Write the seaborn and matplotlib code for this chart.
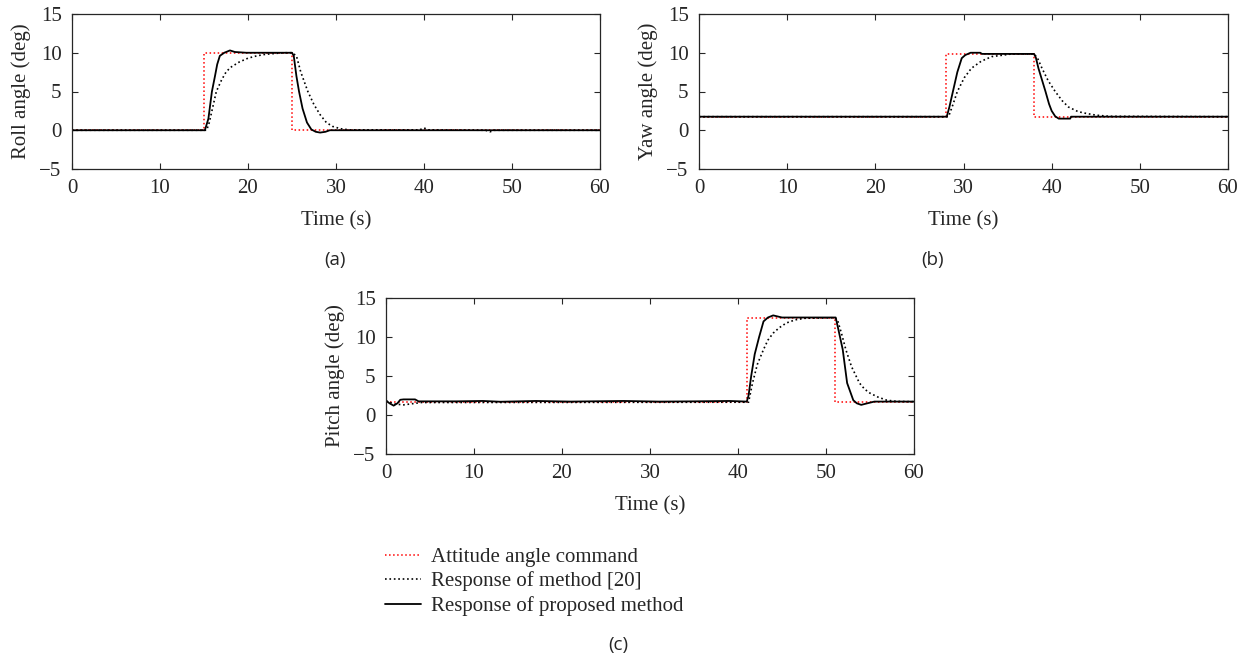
import numpy as np
import seaborn as sns
import matplotlib.pyplot as plt

# ---- Roll angle (a) ----
roll_cmd_t = [0, 15, 15, 25, 25, 60]
roll_cmd = [0, 0, 10, 10, 0, 0]
roll_ref_t = [0, 15.3, 15.6, 16.0, 16.4, 17.0, 17.5, 18.0, 19.0, 20.0, 21.0, 22.0, 23.0, 24.0, 25.0,
              25.5, 26.0, 26.8, 27.5, 28.2, 28.9, 29.6, 30.5, 31.5, 39.5, 40.0, 40.5, 47.0, 47.5, 48.0, 60]
roll_ref = [0, 0, 1.0, 3.0, 5.0, 6.5, 7.5, 8.1, 8.8, 9.3, 9.6, 9.8, 9.9, 10.0, 10.0,
            9.6, 7.5, 5.0, 3.3, 2.0, 1.0, 0.5, 0.2, 0.05, 0.05, 0.3, 0.05, 0.0, -0.2, 0.0, 0]
roll_new_t = [0, 15.1, 15.5, 15.9, 16.25, 16.5, 16.8, 17.3, 17.95, 18.5, 19.8, 25.0, 25.2,
              25.5, 25.8, 26.2, 26.7, 27.2, 27.7, 28.2, 28.8, 29.3, 60]
roll_new = [0, 0, 1.5, 5.0, 7.0, 8.5, 9.6, 10.0, 10.3, 10.1, 10.0, 10.0, 9.6,
            7.0, 5.0, 2.8, 1.0, 0.1, -0.2, -0.3, -0.2, 0.0, 0]

# ---- Yaw angle (b) ----
yaw_cmd_t = [0, 28, 28, 38, 38, 60]
yaw_cmd = [1.75, 1.75, 9.85, 9.85, 1.75, 1.75]
yaw_ref_t = [0, 28.3, 28.8, 29.3, 30.1, 30.9, 32.0, 33.2, 35.5, 38.0, 38.4, 38.9, 39.6,
             40.4, 41.2, 41.9, 43.0, 43.8, 45.0, 46.5, 60]
yaw_ref = [1.75, 1.75, 3.3, 5.0, 6.8, 8.0, 8.9, 9.5, 9.85, 9.85, 9.3, 8.0, 6.4,
           5.0, 3.8, 3.0, 2.4, 2.2, 1.95, 1.8, 1.75]
yaw_new_t = [0, 28.1, 28.4, 28.8, 29.3, 29.8, 30.2, 30.8, 31.9, 32.1, 38.0, 38.2,
             38.5, 38.9, 39.3, 39.7, 40.0, 40.4, 40.8, 42.1, 42.2, 60]
yaw_new = [1.75, 1.75, 3.0, 5.0, 7.5, 9.3, 9.7, 10.0, 10.0, 9.85, 9.85, 9.4,
           8.0, 6.5, 5.0, 3.4, 2.5, 1.8, 1.5, 1.5, 1.75, 1.75]

# ---- Pitch angle (c) ----
pitch_cmd_t = [0, 41, 41, 51, 51, 60]
pitch_cmd = [1.64, 1.64, 12.47, 12.47, 1.64, 1.64]
pitch_ref_t = [0, 0.5, 1.0, 2.0, 3.0, 4.0, 41.2, 41.65, 42.2, 42.9, 43.4, 44.0, 44.7, 45.5, 46.5,
               47.6, 51.0, 51.3, 51.75, 52.25, 52.9, 53.8, 54.4, 55.0, 55.9, 56.9, 58.0, 60]
pitch_ref = [1.8, 1.6, 1.4, 1.3, 1.45, 1.6, 1.64, 4.1, 6.5, 8.4, 9.6, 10.5, 11.2, 11.8, 12.2,
             12.4, 12.47, 12.2, 10.5, 8.4, 6.2, 4.1, 3.3, 2.8, 2.3, 1.9, 1.75, 1.7]
pitch_new_t = [0, 0.4, 0.87, 1.3, 1.62, 2.0, 3.3, 3.7, 8.0, 11.0, 13.0, 17.0, 21.0, 27.0, 31.0, 35.0,
               39.0, 41.0, 41.2, 41.5, 41.9, 42.4, 42.9, 43.4, 44.0, 45.0, 51.1, 51.4, 51.9,
               52.4, 53.1, 53.5, 54.0, 54.7, 55.5, 60]
pitch_new = [1.85, 1.5, 1.2, 1.5, 1.95, 2.0, 2.0, 1.75, 1.75, 1.8, 1.7, 1.8, 1.72, 1.8, 1.72, 1.75,
             1.8, 1.72, 2.5, 5.0, 7.8, 10.0, 12.0, 12.5, 12.77, 12.5, 12.5, 11.0, 8.4,
             4.1, 1.9, 1.5, 1.3, 1.5, 1.72, 1.72]

panels = [
    ('Roll angle (deg)', '(a)', roll_cmd_t, roll_cmd, roll_ref_t, roll_ref, roll_new_t, roll_new),
    ('Yaw angle (deg)', '(b)', yaw_cmd_t, yaw_cmd, yaw_ref_t, yaw_ref, yaw_new_t, yaw_new),
    ('Pitch angle (deg)', '(c)', pitch_cmd_t, pitch_cmd, pitch_ref_t, pitch_ref, pitch_new_t, pitch_new),
]

sns.set_style('ticks')
plt.rcParams['font.family'] = ['Liberation Serif', 'DejaVu Serif']
plt.rcParams['font.size'] = 15

W, H = 1249, 659
fig = plt.figure(figsize=(W / 100, H / 100), dpi=100)

# axes boxes in pixels: left, top, right, bottom
boxes = [(72, 14, 600, 169), (699, 14, 1228, 169), (386, 298, 914, 454)]
sub_pos = [(335, 260), (933, 260), (618, 645)]

for (ylab, tag, ct, cv, rt, rv, nt, nv), (l, t, r, b), (sx, sy) in zip(panels, boxes, sub_pos):
    ax = fig.add_axes([l / W, 1 - b / H, (r - l) / W, (b - t) / H])
    sns.lineplot(x=ct, y=cv, ax=ax, color='red', linestyle=':', lw=1.1,
                 estimator=None, sort=False, label='Attitude angle command')
    sns.lineplot(x=rt, y=rv, ax=ax, color='black', linestyle=':', lw=1.2,
                 estimator=None, sort=False, label='Response of method [20]')
    sns.lineplot(x=nt, y=nv, ax=ax, color='black', linestyle='-', lw=1.3,
                 estimator=None, sort=False, label='Response of proposed method')
    ax.set_xlim(0, 60)
    ax.set_ylim(-5, 15)
    ax.set_xticks(range(0, 61, 10))
    ax.set_yticks([-5, 0, 5, 10, 15])
    ax.set_yticklabels(['\u22125', '0', '5', '10', '15'])
    ax.tick_params(direction='in', top=True, right=True, length=4, labelsize=15, pad=7.5)
    ax.set_xlabel('Time (s)', fontsize=15, labelpad=9)
    ax.set_ylabel(ylab, fontsize=15, labelpad=6)
    for s in ax.spines.values():
        s.set_linewidth(0.9)
    handles, labels = ax.get_legend_handles_labels()
    ax.get_legend().remove()
    fig.text(sx / W, 1 - sy / H, tag, ha='center', va='center', fontsize=13.5,
             family=['Open Sans', 'DejaVu Sans'])

fig.legend(handles, labels, loc='upper left', bbox_to_anchor=(377 / W, 1 - 539 / H),
           frameon=False, fontsize=15, handlelength=1.7, handletextpad=0.5,
           labelspacing=0.22, borderaxespad=0)

plt.savefig('out.png', dpi=100)
